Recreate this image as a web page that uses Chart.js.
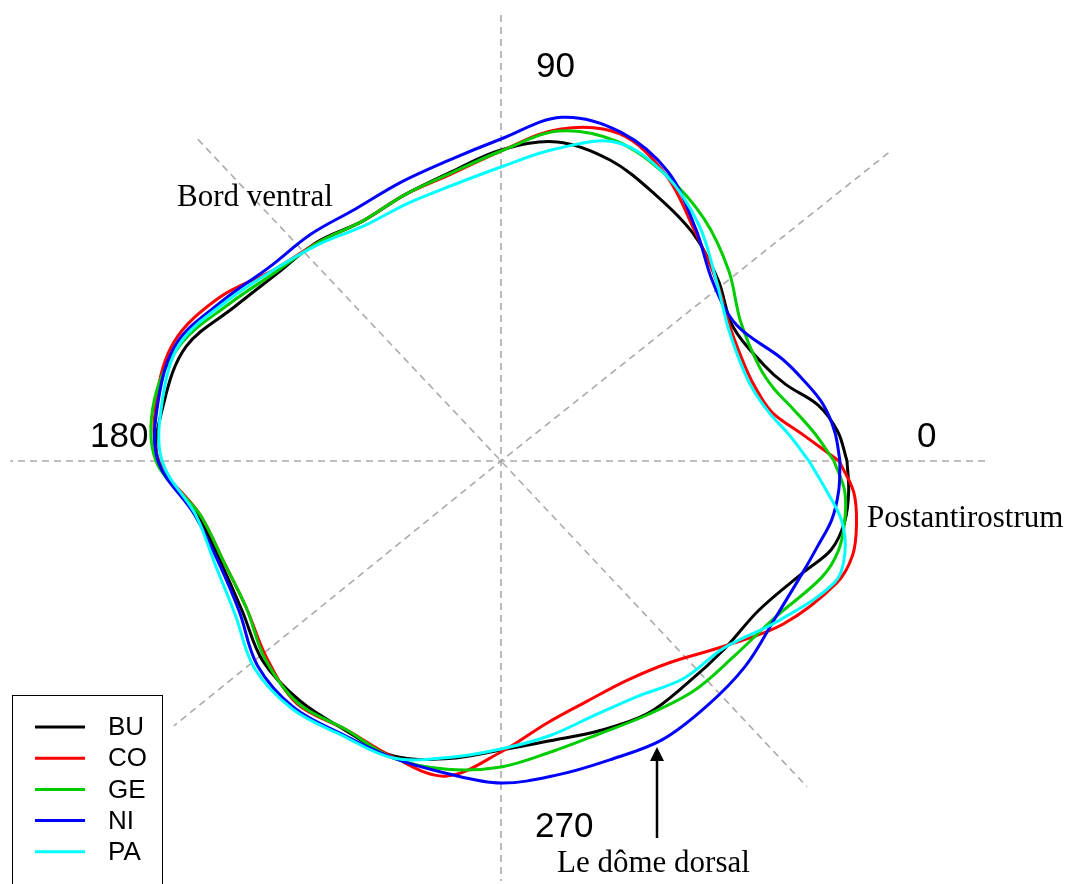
<!DOCTYPE html>
<html>
<head>
<meta charset="utf-8">
<script src="https://cdn.jsdelivr.net/npm/chart.js@4.4.0/dist/chart.umd.min.js"></script>
<style>
  html, body { margin: 0; padding: 0; background: #fff; }
  #chart { display: block; }
</style>
</head>
<body>
<canvas id="chart" width="1078" height="884"></canvas>
<script>
// outline radius (arbitrary units) read around the centre, counter-clockwise from 0 degrees
const angles = [0, 5, 10, 15, 20, 30, 40, 50, 60, 70, 80, 90, 100, 110, 120, 130, 140, 150, 160, 170,
                180, 190, 200, 210, 220, 230, 240, 250, 260, 270, 280, 290, 300, 310, 320, 330, 340, 345, 350, 355];

const seriesNames = ['BU', 'CO', 'GE', 'NI', 'PA'];
const seriesColors = ['#000000', '#ff0000', '#00cd00', '#0000ff', '#00ffff'];

const radiusBU = [346, 338, 322, 295, 280, 268, 283, 298, 308, 320, 324, 311, 293, 283, 277, 286, 292, 308, 335, 342,
                  343, 308, 298, 299, 311, 313, 311, 314, 302, 289, 284, 287, 292, 290, 292, 298, 323, 342, 349, 349];
const radiusCO = [338, 303, 276, 266, 262, 265, 281, 301, 330, 348, 337, 310, 291, 283, 277, 285, 297, 326, 348, 350,
                  342, 306, 295, 294, 306, 317, 310, 315, 320, 291, 266, 255, 253, 263, 289, 326, 357, 364, 361, 354];
const radiusGE = [333, 315, 297, 282, 275, 277, 297, 316, 330, 340, 335, 310, 292, 283, 277, 285, 294, 314, 341, 352,
                  345, 306, 295, 294, 308, 316, 310, 316, 313, 306, 295, 290, 293, 300, 304, 315, 341, 349, 349, 345];
const radiusNI = [339, 335, 327, 313, 299, 272, 277, 303, 334, 350, 349, 322, 305, 296, 291, 296, 302, 321, 345, 348,
                  343, 311, 300, 302, 318, 322, 316, 316, 317, 322, 319, 318, 322, 320, 319, 316, 322, 328, 336, 339];
const radiusPA = [308, 290, 273, 263, 259, 263, 281, 308, 330, 339, 317, 294, 280, 274, 272, 283, 297, 318, 342, 344,
                  339, 310, 304, 307, 322, 324, 317, 316, 301, 288, 279, 271, 272, 284, 291, 320, 355, 356, 346, 326];

const radii = [radiusBU, radiusCO, radiusGE, radiusNI, radiusPA];

// dashed reference rays: direction (degrees) and length
const guideAngles = [0, 90, 180, 270, 38.5, 133.3, 219.0, 313.2];
const guideLengths = [484, 446, 491, 420, 495, 442, 421, 447];

// tick labels on the reference axes
const axisLabels = ['0', '90', '180', '270'];
const axisLabelPos = [[416, 14], [35, 384], [-411, 14], [34, -376]];

const notes = ['Bord ventral', 'Postantirostrum', 'Le dôme dorsal'];
const notePos = [[-324, 255], [366, -66], [56, -411]];

function polarPoints(rs) {
    const pts = rs.map((r, i) => {
        const a = angles[i] * Math.PI / 180;
        return { x: r * Math.cos(a), y: r * Math.sin(a) };
    });
    pts.push(pts[0]);
    return pts;
}

function guidePoint(i) {
    const a = guideAngles[i] * Math.PI / 180;
    return { x: guideLengths[i] * Math.cos(a), y: guideLengths[i] * Math.sin(a) };
}

const datasets = [];
[[0, 2], [1, 3], [4, 6], [5, 7]].forEach(pair => {
    datasets.push({
        label: 'guide',
        data: [guidePoint(pair[0]), { x: 0, y: 0 }, guidePoint(pair[1])],
        borderColor: '#aaaaaa',
        borderWidth: 1.6,
        borderDash: [7, 5],
        pointRadius: 0,
        showLine: true,
        tension: 0,
        order: 10
    });
});

seriesNames.forEach((name, i) => {
    datasets.push({
        label: name,
        data: polarPoints(radii[i]),
        borderColor: seriesColors[i],
        borderWidth: 3,
        pointRadius: 0,
        showLine: true,
        tension: 0.35,
        order: 5 - i
    });
});

const annotations = {
    id: 'annotations',
    afterDatasetsDraw(chart) {
        const ctx = chart.ctx;
        const xs = chart.scales.x, ys = chart.scales.y;
        ctx.save();
        ctx.fillStyle = '#000';
        ctx.textBaseline = 'alphabetic';

        ctx.font = '35px "Liberation Sans", Arial, sans-serif';
        axisLabels.forEach((t, i) => {
            ctx.fillText(t, xs.getPixelForValue(axisLabelPos[i][0]), ys.getPixelForValue(axisLabelPos[i][1]));
        });

        ctx.font = '31px "Liberation Serif", "Times New Roman", serif';
        notes.forEach((t, i) => {
            ctx.fillText(t, xs.getPixelForValue(notePos[i][0]), ys.getPixelForValue(notePos[i][1]));
        });

        // arrow pointing at the dorsal dome
        const ax = xs.getPixelForValue(156);
        const yTip = ys.getPixelForValue(-286);
        const yBase = ys.getPixelForValue(-300);
        const yEnd = ys.getPixelForValue(-377);
        ctx.strokeStyle = '#000';
        ctx.lineWidth = 2.5;
        ctx.beginPath();
        ctx.moveTo(ax, yEnd);
        ctx.lineTo(ax, yBase);
        ctx.stroke();
        ctx.beginPath();
        ctx.moveTo(ax, yTip);
        ctx.lineTo(ax - 7, yBase);
        ctx.lineTo(ax + 7, yBase);
        ctx.closePath();
        ctx.fill();

        // legend box
        ctx.lineWidth = 1;
        ctx.strokeRect(12.5, 695.5, 150, 200);
        ctx.font = '26px "Liberation Sans", Arial, sans-serif';
        ctx.textBaseline = 'middle';
        seriesNames.forEach((name, i) => {
            const y = 727 + i * 31.2;
            ctx.strokeStyle = seriesColors[i];
            ctx.lineWidth = 3;
            ctx.beginPath();
            ctx.moveTo(35, y);
            ctx.lineTo(85, y);
            ctx.stroke();
            ctx.fillStyle = '#000';
            ctx.fillText(name, 108, y + 1);
        });
        ctx.restore();
    }
};

new Chart(document.getElementById('chart').getContext('2d'), {
    type: 'scatter',
    data: { datasets: datasets },
    options: {
        responsive: false,
        animation: false,
        layout: { padding: 0 },
        plugins: {
            legend: { display: false },
            tooltip: { enabled: false }
        },
        scales: {
            x: { type: 'linear', min: -501, max: 577, display: false },
            y: { type: 'linear', min: -423, max: 461, display: false }
        }
    },
    plugins: [annotations]
});
</script>
</body>
</html>
